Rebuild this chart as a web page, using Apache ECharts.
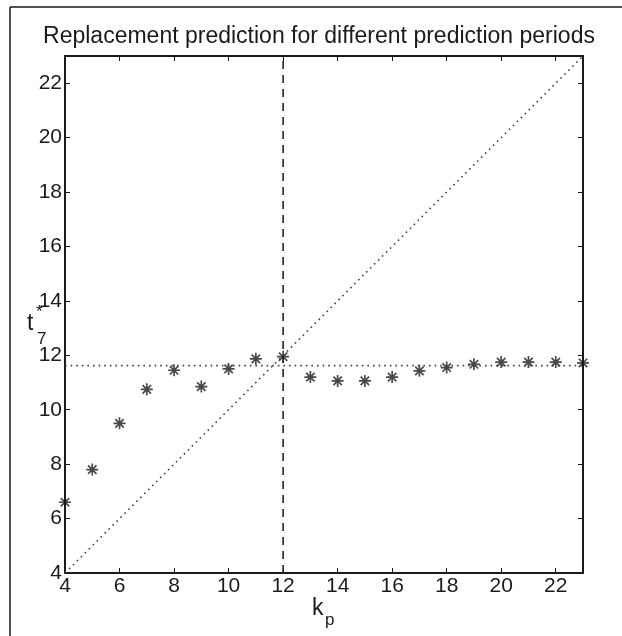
<!DOCTYPE html>
<html>
<head>
<meta charset="utf-8">
<script src="https://cdn.jsdelivr.net/npm/echarts@6/dist/echarts.min.js"></script>
<style>
  html, body { margin: 0; padding: 0; background: #fff; }
  #chart { width: 622px; height: 636px; }
</style>
</head>
<body>
<div id="chart"></div>
<script>
// prediction periods k_p
var kp = [4, 5, 6, 7, 8, 9, 10, 11, 12, 13, 14, 15, 16, 17, 18, 19, 20, 21, 22, 23];
// predicted replacement time t7*
var tStar = [6.6, 7.8, 9.5, 10.75, 11.45, 10.85, 11.5, 11.87, 11.95, 11.2, 11.06, 11.06, 11.2, 11.43, 11.55, 11.67, 11.75, 11.75, 11.75, 11.72];
// reference lines
var diagLine = [[4, 4], [23, 23]];
var levelLine = [[4, 11.62], [23, 11.62]];
var splitLine = [[12, 4], [12, 23]];
var xTicks = [4, 6, 8, 10, 12, 14, 16, 18, 20, 22];
var yTicks = [4, 6, 8, 10, 12, 14, 16, 18, 20, 22];

var ink = '#1a1a1a';
var font = 'Liberation Sans, Arial, sans-serif';

// asterisk marker built from bars
var asterisk = 'path://M8.6 0L11.4 0L11.4 20L8.6 20Z M0 8.6L20 8.6L20 11.4L0 11.4Z ' +
    'M4 2L18 16L16 18L2 4Z M16 2L18 4L4 18L2 16Z';

var chart = echarts.init(document.getElementById('chart'));

function pts(a, b) {
    var out = [];
    for (var i = 0; i < a.length; i++) out.push([a[i], b[i]]);
    return out;
}

function axisBase(pos, showLabel, ticks) {
    return {
        type: 'value',
        position: pos,
        min: 4,
        max: 23,
        interval: 2,
        axisLine: { show: true, onZero: false, lineStyle: { color: ink, width: 2 } },
        axisTick: { show: true, inside: true, length: 5, lineStyle: { color: ink, width: 1 },
            customValues: ticks },
        axisLabel: { show: showLabel, color: ink, fontSize: 21, fontFamily: font, margin: 3,
            customValues: ticks },
        splitLine: { show: false }
    };
}

var option = {
    backgroundColor: '#fff',
    animation: false,
    title: {
        text: 'Replacement prediction for different prediction periods',
        left: 314,
        textAlign: 'center',
        top: 20,
        textStyle: { color: ink, fontSize: 23, fontWeight: 'normal', fontFamily: font }
    },
    grid: { left: 65, right: 39, top: 56, bottom: 63 },
    xAxis: [axisBase('bottom', true, xTicks), axisBase('top', false, xTicks)],
    yAxis: [axisBase('left', true, yTicks), axisBase('right', false, yTicks)],
    graphic: [
        { type: 'line', shape: { x1: 10, y1: 7, x2: 10, y2: 636 }, style: { stroke: ink, lineWidth: 1.5 } },
        { type: 'line', shape: { x1: 10, y1: 7, x2: 622, y2: 7 }, style: { stroke: ink, lineWidth: 1.5 } },
        { type: 'text', left: 27, top: 312, style: { text: 't', fill: ink, font: '23px ' + font } },
        { type: 'text', left: 37, top: 331, style: { text: '7', fill: ink, font: '17px ' + font } },
        { type: 'text', left: 36, top: 304, style: { text: '*', fill: ink, font: '17px ' + font } },
        { type: 'text', left: 312, top: 597, style: { text: 'k', fill: ink, font: '23px ' + font } },
        { type: 'text', left: 325, top: 612, style: { text: 'p', fill: ink, font: '17px ' + font } }
    ],
    series: [
        {
            type: 'line', data: diagLine, symbol: 'none', silent: true,
            lineStyle: { color: '#444', width: 1.6, type: [1.6, 4] }
        },
        {
            type: 'line', data: levelLine, symbol: 'none', silent: true,
            lineStyle: { color: '#444', width: 1.6, type: [1.6, 4] }
        },
        {
            type: 'line', data: splitLine, symbol: 'none', silent: true,
            lineStyle: { color: '#222', width: 1.6, type: [8, 6] }
        },
        {
            type: 'scatter', data: pts(kp, tStar), symbol: asterisk, symbolSize: 12,
            itemStyle: { color: '#1a1a1a' }
        }
    ]
};

chart.setOption(option);
</script>
</body>
</html>
